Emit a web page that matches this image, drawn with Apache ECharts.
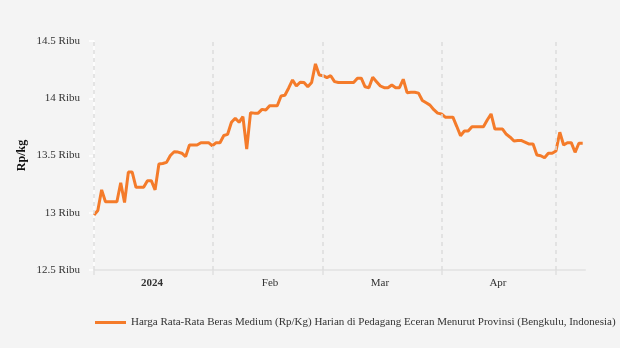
<!DOCTYPE html>
<html>
<head>
<meta charset="utf-8">
<script src="https://cdn.jsdelivr.net/npm/echarts@6/dist/echarts.min.js"></script>
<style>
html,body{margin:0;padding:0;background:#f4f4f4;}
#chart{width:620px;height:348px;}
</style>
</head>
<body>
<div id="chart"></div>
<script>
// Daily prices from 2024-01-01 (index 0) to 2024-05-08 (index 128)
const startDate = '2024-01-01';
const prices = [
12980,13020,13200,13096,13096,13096,13096,13262,13090,13355,
13355,13222,13222,13222,13280,13280,13200,13426,13430,13440,
13500,13533,13530,13520,13490,13592,13592,13592,13612,13612,
13612,13585,13612,13612,13675,13685,13790,13825,13790,13840,
13557,13874,13870,13870,13903,13897,13935,13935,13935,14020,
14026,14090,14160,14107,14140,14137,14100,14137,14300,14203,
14197,14180,14197,14145,14137,14137,14137,14137,14137,14175,
14175,14100,14092,14183,14145,14107,14092,14092,14116,14092,
14092,14166,14049,14053,14053,14045,13980,13960,13940,13900,
13870,13863,13835,13835,13835,13755,13673,13714,13714,13752,
13752,13752,13752,13810,13863,13731,13731,13731,13685,13660,
13627,13630,13630,13615,13600,13600,13504,13498,13480,13520,
13520,13540,13703,13592,13612,13612,13528,13607,13607
];
const monthStarts = [0, 31, 60, 91, 121];
const monthLabelPos = [15.2, 46.1, 74.9, 105.8];
const monthLabels = ['2024', 'Feb', 'Mar', 'Apr'];
const yTicks = [12500, 13000, 13500, 14000, 14500];
const seriesName = 'Harga Rata-Rata Beras Medium (Rp/Kg) Harian di Pedagang Eceran Menurut Provinsi (Bengkulu, Indonesia)';

const font = 'Liberation Serif';
const chart = echarts.init(document.getElementById('chart'), null, {renderer: 'canvas'});
chart.setOption({
  backgroundColor: '#f4f4f4',
  animation: false,
  textStyle: {fontFamily: font},
  grid: {left: 94, right: 35, top: 41, bottom: 78, containLabel: false},
  legend: {
    data: [seriesName],
    left: 90, top: 312,
    icon: 'rect', itemWidth: 31, itemHeight: 3,
    textStyle: {fontFamily: font, fontSize: 11, color: '#333'}
  },
  xAxis: {
    type: 'value', min: 0, max: 128.6,
    axisLine: {show: true, lineStyle: {color: '#e6e6e6', width: 2}},
    axisTick: {show: true, customValues: monthStarts, length: 5, lineStyle: {color: '#e0e0e0', width: 1.5}},
    splitLine: {show: false},
    axisLabel: {
      customValues: monthLabelPos, margin: 8,
      fontFamily: font, fontSize: 11, color: '#333',
      formatter: function (v) {
        const i = monthLabelPos.indexOf(v);
        const t = i >= 0 ? monthLabels[i] : '';
        return i === 0 ? '{b|' + t + '}' : t;
      },
      rich: {b: {fontWeight: 'bold', fontFamily: font, fontSize: 11, color: '#333'}}
    }
  },
  yAxis: {
    type: 'value', min: yTicks[0], max: yTicks[yTicks.length - 1], interval: 500,
    name: 'Rp/kg', nameLocation: 'middle', nameRotate: 90, nameGap: 66,
    nameMoveOverlap: false,
    nameTextStyle: {fontFamily: font, fontSize: 12, fontWeight: 'bold', color: '#111'},
    axisLine: {show: true, lineStyle: {color: '#ffffff', width: 1.5}},
    axisTick: {show: true, length: 5, lineStyle: {color: '#ffffff', width: 1.5}},
    splitLine: {show: false},
    axisLabel: {
      margin: 14, fontFamily: font, fontSize: 11, color: '#333',
      formatter: function (v) { return (v / 1000) + ' Ribu'; }
    }
  },
  series: [
    {
      name: 'grid', type: 'line', data: [], z: 1, silent: true,
      markLine: {
        silent: true, symbol: ['none', 'none'], label: {show: false},
        lineStyle: {type: [4, 4], color: '#dcdcdc', width: 1.5},
        data: monthStarts.map(d => ({xAxis: d}))
      }
    },
    {
      name: seriesName, type: 'line', z: 3,
      showSymbol: false, symbol: 'none',
      lineStyle: {color: '#f47b2a', width: 3},
      itemStyle: {color: '#f47b2a'},
      data: prices.map((v, i) => [i, v])
    }
  ]
});
</script>
</body>
</html>
